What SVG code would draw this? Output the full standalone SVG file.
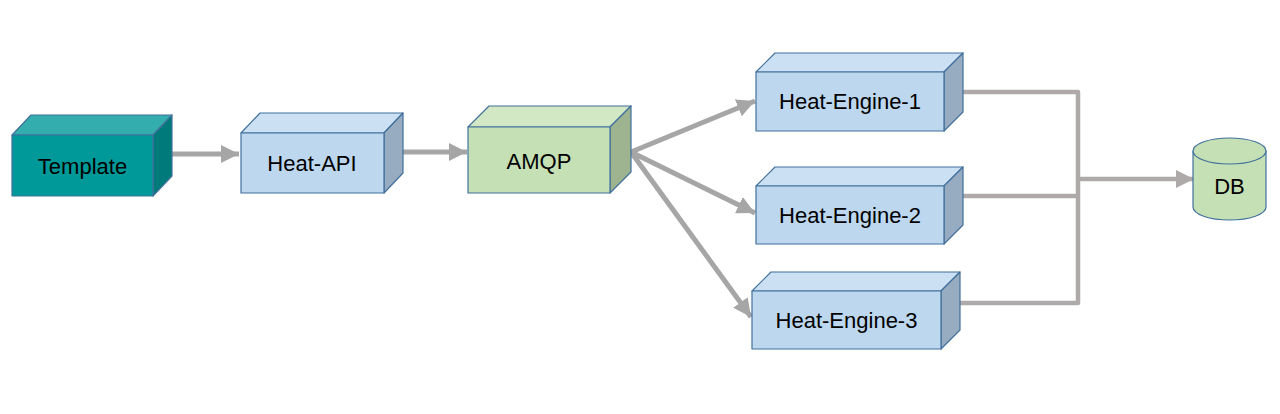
<svg xmlns="http://www.w3.org/2000/svg" width="1280" height="414" viewBox="0 0 1280 414">
<style>
.e{stroke:#41719C;stroke-width:1.2;stroke-linejoin:round}
.t{font-family:"Liberation Sans",Arial,sans-serif;font-size:22px;fill:#000;text-anchor:middle}
.bf{fill:#BDD7EE}.bt{fill:#CCE0F4}.bs{fill:#97ACC0}
.gf{fill:#C5E0B4}.gt{fill:#D2E7C4}.gs{fill:#9EB491}
.c{stroke:#A6A6A6;stroke-width:5;fill:none}
.c2{stroke:#AEAAAA;stroke-width:4.5;fill:none;stroke-linejoin:round}
</style>
<defs>
<marker id="ah" markerUnits="userSpaceOnUse" markerWidth="18" markerHeight="18" viewBox="0 0 16 16" refX="16" refY="8" orient="auto">
<polygon points="0,0 16,8 0,16" fill="#A6A6A6"/>
</marker>
<marker id="ah2" markerUnits="userSpaceOnUse" markerWidth="18" markerHeight="18" viewBox="0 0 16 16" refX="16" refY="8" orient="auto">
<polygon points="0,0 16,8 0,16" fill="#AEAAAA"/>
</marker>
</defs>
<rect width="1280" height="414" fill="#fff"/>
<g id="connectors">
<line class="c" x1="172" y1="154" x2="239" y2="154" marker-end="url(#ah)"/>
<line class="c" x1="403" y1="152" x2="467" y2="152" marker-end="url(#ah)"/>
<line class="c" x1="631" y1="152" x2="755" y2="101" marker-end="url(#ah)"/>
<line class="c" x1="631" y1="152" x2="755" y2="213" marker-end="url(#ah)"/>
<line class="c" x1="631" y1="152" x2="751" y2="317" marker-end="url(#ah)"/>
<polyline class="c2" points="963,92 1078,92 1078,303 960,303"/>
<line class="c2" x1="963" y1="196" x2="1078" y2="196"/>
<line class="c2" x1="1078" y1="179" x2="1194" y2="179" marker-end="url(#ah2)"/>
</g>
<g id="template">
<polygon class="e" fill="#33ADAD" points="12,135 31,115 172,115 153,135"/>
<polygon class="e" fill="#007A7A" points="153,135 172,115 172,176 153,196"/>
<rect class="e" fill="#009999" x="12" y="135" width="141" height="61"/>
<text class="t" x="82.5" y="174">Template</text>
</g>
<g id="heat-api">
<polygon class="e bt" points="241,133 260,113 403,113 384,133"/>
<polygon class="e bs" points="384,133 403,113 403,173 384,193"/>
<rect class="e bf" x="241" y="133" width="143" height="60"/>
<text class="t" x="312" y="171">Heat-API</text>
</g>
<g id="amqp">
<polygon class="e gt" points="468,127 489,106 631,106 610,127"/>
<polygon class="e gs" points="610,127 631,106 631,172 610,193"/>
<rect class="e gf" x="468" y="127" width="142" height="66"/>
<text class="t" x="539" y="169">AMQP</text>
</g>
<g id="heat-engine-1">
<polygon class="e bt" points="756,72 775,53 963,53 944,72"/>
<polygon class="e bs" points="944,72 963,53 963,112 944,131"/>
<rect class="e bf" x="756" y="72" width="188" height="59"/>
<text class="t" x="850" y="109">Heat-Engine-1</text>
</g>
<g id="heat-engine-2">
<polygon class="e bt" points="756,186 775,167 963,167 944,186"/>
<polygon class="e bs" points="944,186 963,167 963,225 944,244"/>
<rect class="e bf" x="756" y="186" width="188" height="58"/>
<text class="t" x="850" y="223">Heat-Engine-2</text>
</g>
<g id="heat-engine-3">
<polygon class="e bt" points="752,291 771,272 960,272 941,291"/>
<polygon class="e bs" points="941,291 960,272 960,330 941,349"/>
<rect class="e bf" x="752" y="291" width="189" height="58"/>
<text class="t" x="846.5" y="328">Heat-Engine-3</text>
</g>
<g id="db">
<path class="e" fill="#C5E0B4" d="M1193,151 L1193,207 A36.5,13 0 0 0 1266,207 L1266,151 Z"/>
<ellipse class="e" fill="#C5E0B4" cx="1229.5" cy="151" rx="36.5" ry="13"/>
<text class="t" x="1229.5" y="194">DB</text>
</g>
</svg>
